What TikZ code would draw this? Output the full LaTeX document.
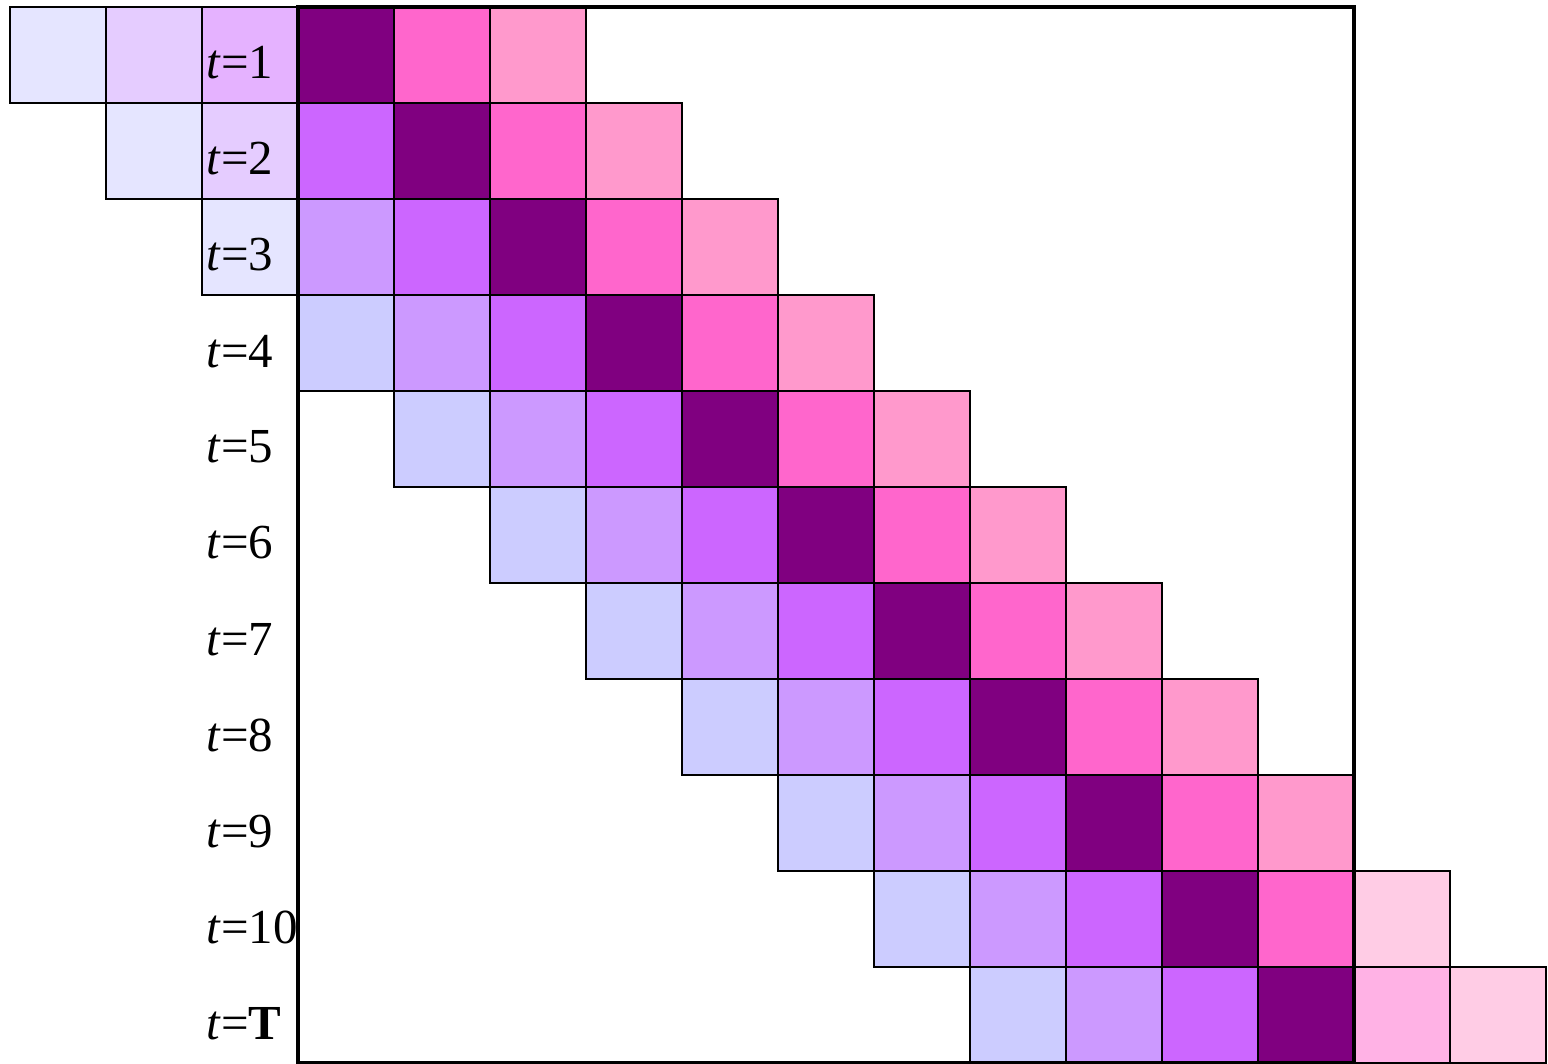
\documentclass[tikz,border=0pt]{standalone}
\usepackage{fontspec}
\setmainfont{Liberation Serif}
\usepackage{xcolor}
\usepackage{tikz}
\usetikzlibrary{positioning}

\definecolor{shadeA}{HTML}{CCCCFF}
\definecolor{shadeB}{HTML}{CC99FF}
\definecolor{shadeC}{HTML}{CC66FF}
\definecolor{shadeD}{HTML}{800080}
\definecolor{shadeE}{HTML}{FF66CC}
\definecolor{shadeF}{HTML}{FF99CC}

\begin{document}
\begin{tikzpicture}[x=1cm,y=-1cm,
    cell/.style={draw=black,line width=0.45pt,minimum size=1cm,inner sep=0pt,outer sep=0pt},
    tlabel/.style={anchor=base west,inner sep=0pt,font=\fontsize{14.5}{16}\selectfont}]
  \useasboundingbox (-3.104,-0.073) rectangle (13.021,11.01);
  % Diagonal band: six cells per time step, faded outside the window
  \foreach \r in {1,...,11}{
    \foreach \j/\col in {0/shadeA,1/shadeB,2/shadeC,3/shadeD,4/shadeE,5/shadeF}{
      \pgfmathtruncatemacro{\c}{\r-4+\j}
      \ifnum\c<0 \def\op{0.5}\else\ifnum\c>10 \def\op{0.5}\else\def\op{1}\fi\fi
      \node[cell,fill=\col,fill opacity=\op] (cell-\r-\c) at (\c+0.5,\r-0.5) {};
    }
  }
  % Time step labels
  \foreach \r in {1,...,10}{
    \node[tlabel] (t\r) at (-0.96,\r-0.25) {\textit{t}=\r};
  }
  \node[tlabel] (t11) at (-0.96,10.75) {\textit{t}=\textbf{T}};
  % Window
  \draw[line width=1.4pt] (cell-1-0.north west) rectangle (cell-11-10.south east);
\end{tikzpicture}
\end{document}
